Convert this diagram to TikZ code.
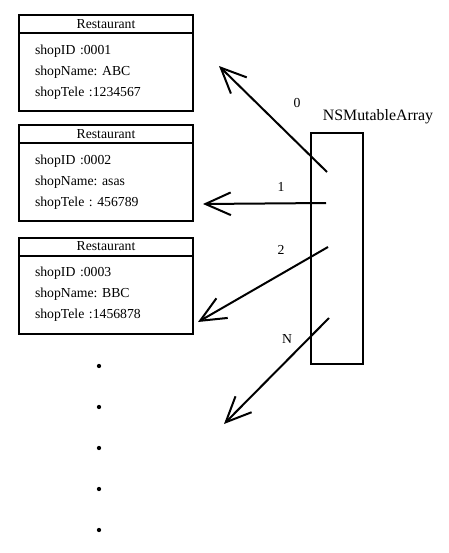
\documentclass[tikz,border=0pt]{standalone}
\usepackage{fontspec}
\setmainfont{Liberation Serif}
\usetikzlibrary{positioning,arrows.meta}
\frenchspacing
\tikzstyle{every node}=[outer sep=0pt]
\tikzstyle{head}=[draw=black,line width=1.5pt,minimum width=130.5pt,minimum height=13.5pt,inner sep=0pt,font=\fontsize{10.3}{12}\selectfont]
\tikzstyle{body}=[draw=black,line width=1.5pt,minimum width=130.5pt,minimum height=58.5pt,text width=106.5pt,inner xsep=12pt,inner ysep=0pt,align=left,font=\fontsize{10.3}{15.75}\selectfont]
\tikzstyle{index}=[font=\fontsize{10.3}{12}\selectfont]
\tikzstyle{ptr}=[line width=1.5pt,-{Straight Barb[length=19pt,width=17pt]}]

\begin{document}
\begin{tikzpicture}[x=0.75pt,y=-0.75pt]
  \useasboundingbox (0,0) rectangle (449,553);
  % restaurant objects
  \node [head] (head1) at (106,24) {Restaurant};
  \node [body,below=0pt of head1] (body1) {shopID :0001\\shopName: ABC\\shopTele :1234567};
  \node [head] (head2) at (106,134) {Restaurant};
  \node [body,below=0pt of head2] (body2) {shopID :0002\\shopName: asas\\shopTele : 456789};
  \node [head] (head3) at (106,246.5) {Restaurant};
  \node [body,below=0pt of head3] (body3) {shopID :0003\\shopName: BBC\\shopTele :1456878};
  \foreach \y in {366,407,448,489,530}
    \fill (99,\y) circle (1.6pt);
  % the array
  \node [draw=black,line width=1.5pt,minimum width=39pt,minimum height=173.25pt] (array) at (337,248.5) {};
  \node [font=\fontsize{11.9}{14}\selectfont] (arrname) at (378,117) {NSMutableArray};
  \coordinate (s0) at (327,172);
  \coordinate (s1) at (326,203);
  \coordinate (s2) at (328,247);
  \coordinate (sN) at (329,318);
  \coordinate (e0) at (219,66);
  \coordinate (e1) at (203,204);
  \coordinate (e2) at (198,322);
  \coordinate (eN) at (224,424);
  \draw [ptr] (s0) -- (e0);
  \draw [ptr] (s1) -- (e1);
  \draw [ptr] (s2) -- (e2);
  \draw [ptr] (sN) -- (eN);
  \node [index] (i0) at (297,103) {0};
  \node [index] (i1) at (281,187) {1};
  \node [index] (i2) at (281,250) {2};
  \node [index] (iN) at (287,339) {N};
\end{tikzpicture}
\end{document}
